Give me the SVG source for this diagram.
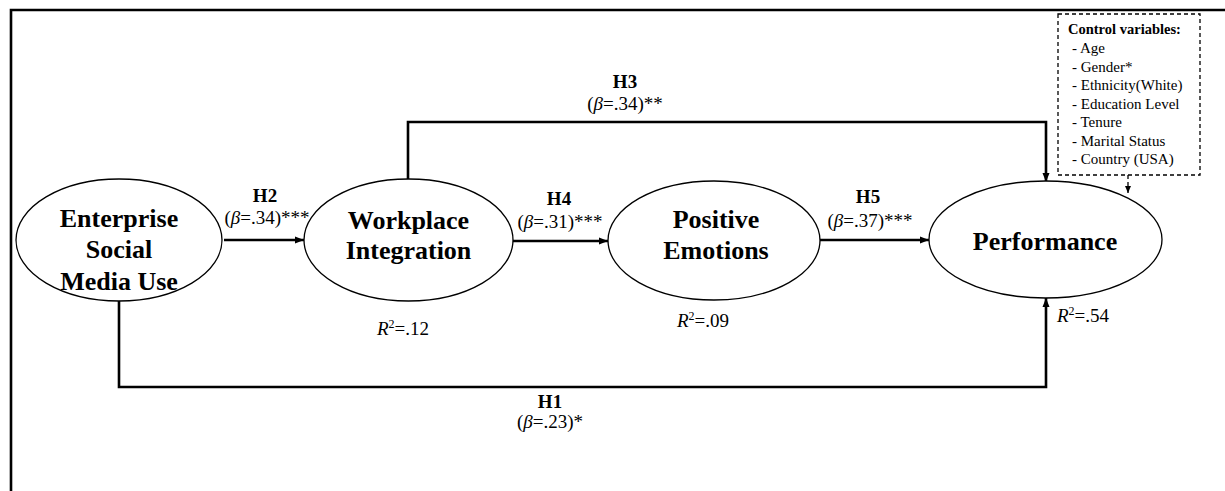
<svg xmlns="http://www.w3.org/2000/svg" width="1225" height="491" viewBox="0 0 1225 491">
<style>
  .frame{fill:none;stroke:#000;stroke-width:2.6}
  .node ellipse{fill:#fff;stroke:#000;stroke-width:1.3}
  .nl{font-family:"Liberation Serif","Times New Roman",serif;font-weight:bold;font-size:26px;text-anchor:middle;fill:#000}
  .conn{fill:none;stroke:#000;stroke-width:2.6}
  .dash{fill:none;stroke:#000;stroke-width:1.3;stroke-dasharray:4 3}
  .h{font-family:"Liberation Serif","Times New Roman",serif;font-weight:bold;font-size:19px;text-anchor:middle;fill:#000}
  .b{font-family:"Liberation Serif","Times New Roman",serif;font-size:19px;text-anchor:middle;fill:#000}
  .r{font-family:"Liberation Serif","Times New Roman",serif;font-size:19px;fill:#000}
  .cv{font-family:"Liberation Serif","Times New Roman",serif;font-size:15px;fill:#000}
  .cvt{font-family:"Liberation Serif","Times New Roman",serif;font-size:14.5px;font-weight:bold;fill:#000}
</style>
<defs>
  <marker id="ah" markerUnits="userSpaceOnUse" markerWidth="10" markerHeight="8" refX="9" refY="4" orient="auto">
    <path d="M0,0.5 L9,4 L0,7.5 z" fill="#000"/>
  </marker>
  <marker id="ahs" markerUnits="userSpaceOnUse" markerWidth="8" markerHeight="7" refX="7" refY="3.5" orient="auto">
    <path d="M0,0.5 L7,3.5 L0,6.5 z" fill="#000"/>
  </marker>
</defs>
<rect width="1225" height="491" fill="#fff"/>
<path class="frame" d="M11,491 L11,10 L1225,10"/>

<g id="connectors">
  <line class="conn" x1="224" y1="240" x2="304" y2="240" marker-end="url(#ah)"/>
  <line class="conn" x1="513" y1="241" x2="608" y2="241" marker-end="url(#ah)"/>
  <line class="conn" x1="820" y1="240" x2="929" y2="240" marker-end="url(#ah)"/>
  <path class="conn" d="M408,179 L408,122 L1046,122 L1046,182" marker-end="url(#ah)"/>
  <path class="conn" d="M119,301 L119,387 L1046,387 L1046,298" marker-end="url(#ah)"/>
  <line class="dash" x1="1128" y1="175" x2="1128" y2="193" marker-end="url(#ahs)"/>
</g>

<g id="node-esmu" class="node">
  <ellipse cx="119" cy="240" rx="103" ry="61"/>
  <text class="nl" x="119" y="227">Enterprise</text>
  <text class="nl" x="119" y="258">Social</text>
  <text class="nl" x="119" y="290">Media Use</text>
</g>
<g id="node-wi" class="node">
  <ellipse cx="408.5" cy="240" rx="104.5" ry="61"/>
  <text class="nl" x="408.5" y="229">Workplace</text>
  <text class="nl" x="408.5" y="259">Integration</text>
</g>
<g id="node-pe" class="node">
  <ellipse cx="714" cy="240.5" rx="106" ry="59.5"/>
  <text class="nl" x="716" y="228">Positive</text>
  <text class="nl" x="716" y="259">Emotions</text>
</g>
<g id="node-perf" class="node">
  <ellipse cx="1045.5" cy="239.5" rx="116.5" ry="58.5"/>
  <text class="nl" x="1045" y="250">Performance</text>
</g>

<g id="labels">
  <text class="h" x="265" y="202">H2</text>
  <text class="b" x="267" y="224">(<tspan font-style="italic">β</tspan>=.34)***</text>
  <text class="h" x="559" y="205">H4</text>
  <text class="b" x="560" y="228">(<tspan font-style="italic">β</tspan>=.31)***</text>
  <text class="h" x="868" y="203">H5</text>
  <text class="b" x="870" y="227">(<tspan font-style="italic">β</tspan>=.37)***</text>
  <text class="h" x="625" y="88">H3</text>
  <text class="b" x="625" y="110">(<tspan font-style="italic">β</tspan>=.34)**</text>
  <text class="h" x="550" y="408">H1</text>
  <text class="b" x="550" y="428">(<tspan font-style="italic">β</tspan>=.23)*</text>
  <text class="r" x="377" y="335"><tspan font-style="italic">R</tspan><tspan font-size="12" dy="-7">2</tspan><tspan dy="7">=.12</tspan></text>
  <text class="r" x="677" y="327"><tspan font-style="italic">R</tspan><tspan font-size="12" dy="-7">2</tspan><tspan dy="7">=.09</tspan></text>
  <text class="r" x="1057" y="322"><tspan font-style="italic">R</tspan><tspan font-size="12" dy="-7">2</tspan><tspan dy="7">=.54</tspan></text>
</g>

<g id="control-variables">
  <rect class="dash" x="1058" y="14" width="142" height="161"/>
  <text class="cvt" x="1068" y="34">Control variables:</text>
  <text class="cv" x="1072" y="53">- Age</text>
  <text class="cv" x="1072" y="71.5">- Gender*</text>
  <text class="cv" x="1072" y="90">- Ethnicity(White)</text>
  <text class="cv" x="1072" y="108.5">- Education Level</text>
  <text class="cv" x="1072" y="127">- Tenure</text>
  <text class="cv" x="1072" y="145.5">- Marital Status</text>
  <text class="cv" x="1072" y="164">- Country (USA)</text>
</g>
</svg>
